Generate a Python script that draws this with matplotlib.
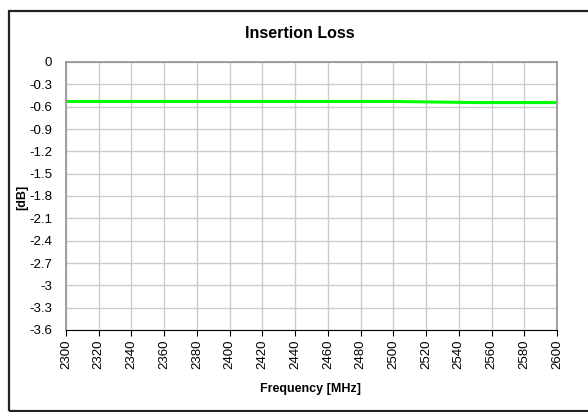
import matplotlib
matplotlib.use("Agg")
import matplotlib.pyplot as plt
from matplotlib.patches import Rectangle

plt.rcParams['font.family'] = ['Liberation Sans', 'DejaVu Sans']

# data
freq = [2300, 2350, 2400, 2450, 2500, 2550, 2600]
loss = [-0.53, -0.53, -0.53, -0.53, -0.53, -0.545, -0.545]

x_ticks = list(range(2300, 2601, 20))
y_ticks = [0, -0.3, -0.6, -0.9, -1.2, -1.5, -1.8, -2.1, -2.4, -2.7, -3, -3.3, -3.6]
y_labels = ["0", "-0.3", "-0.6", "-0.9", "-1.2", "-1.5", "-1.8", "-2.1", "-2.4", "-2.7", "-3", "-3.3", "-3.6"]

fig = plt.figure(figsize=(5.88, 4.12), dpi=100)
ax = fig.add_axes([66 / 588, 1 - 330 / 412, 491 / 588, 268 / 412])

# outer chart border (runs off the right and bottom edges)
fig.patches.append(Rectangle((9 / 588, 1.5 / 412), 600 / 588, 399.5 / 412, transform=fig.transFigure,
                             fill=False, edgecolor="#222222", linewidth=1.6))

ax.plot(freq, loss, color="#00ff00", linewidth=2.2)

ax.set_xlim(2300, 2600)
ax.set_ylim(-3.6, 0)
ax.set_xticks(x_ticks)
ax.set_xticklabels([str(v) for v in x_ticks], rotation=90, fontsize=9.5)
ax.set_yticks(y_ticks)
ax.set_yticklabels(y_labels, fontsize=9.5)

ax.grid(True, color="#cccccc", linewidth=1)
ax.set_axisbelow(True)
for s in ["top", "right", "left"]:
    ax.spines[s].set_color("#999999")
    ax.spines[s].set_linewidth(1.3)
ax.spines["bottom"].set_color("black")
ax.tick_params(axis="x", direction="out", length=4, color="black", pad=3)
ax.tick_params(axis="y", length=0, pad=10)

fig.text(300 / 588, 1 - 33 / 412, "Insertion Loss", fontsize=11.5, fontweight="bold",
         ha="center", va="center")
fig.text(311 / 588, 1 - 389 / 412, "Frequency [MHz]", fontsize=9, fontweight="bold",
         ha="center", va="center")
fig.text(22 / 588, 1 - 197 / 412, "[dB]", fontsize=9, fontweight="bold",
         ha="center", va="center", rotation=90)

fig.savefig("out.png", dpi=100)
